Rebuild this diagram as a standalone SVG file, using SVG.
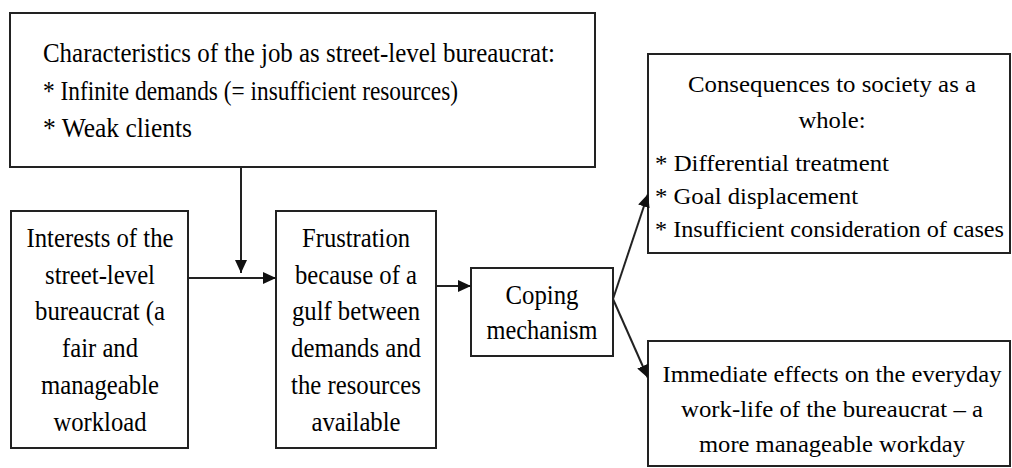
<svg xmlns="http://www.w3.org/2000/svg" width="1012" height="468" viewBox="0 0 1012 468">
<style>
.box{fill:#fff;stroke:#222;stroke-width:2}
.t{font-family:"Liberation Serif","Times New Roman",serif;font-size:27.5px;fill:#000}
.r{font-size:24px}
.c{text-anchor:middle}
.ln{stroke:#222;stroke-width:2;fill:none}
</style>
<defs>
<marker id="ah" markerUnits="userSpaceOnUse" markerWidth="14" markerHeight="14" viewBox="0 0 14 14" refX="13" refY="7" orient="auto">
<path d="M0,1 L13,7 L0,13 Z" fill="#111"/>
</marker>
</defs>
<rect width="1012" height="468" fill="#fff"/>
<g id="characteristics">
<rect class="box" x="10" y="13" width="585" height="154"/>
<text class="t" x="43" y="62" textLength="512" lengthAdjust="spacingAndGlyphs">Characteristics of the job as street-level bureaucrat:</text>
<text class="t" x="43" y="100" textLength="415" lengthAdjust="spacingAndGlyphs">* Infinite demands (= insufficient resources)</text>
<text class="t" x="43" y="137" textLength="149" lengthAdjust="spacingAndGlyphs">* Weak clients</text>
</g>
<g id="interests">
<rect class="box" x="11" y="211" width="177" height="237"/>
<text class="t c" x="100" y="247" textLength="147" lengthAdjust="spacingAndGlyphs">Interests of the</text>
<text class="t c" x="100" y="284" textLength="110" lengthAdjust="spacingAndGlyphs">street-level</text>
<text class="t c" x="100" y="320" textLength="130" lengthAdjust="spacingAndGlyphs">bureaucrat (a</text>
<text class="t c" x="100" y="357" textLength="76" lengthAdjust="spacingAndGlyphs">fair and</text>
<text class="t c" x="100" y="394" textLength="118" lengthAdjust="spacingAndGlyphs">manageable</text>
<text class="t c" x="100" y="431" textLength="93" lengthAdjust="spacingAndGlyphs">workload</text>
</g>
<g id="frustration">
<rect class="box" x="276" y="211" width="160" height="237"/>
<text class="t c" x="356" y="247" textLength="108" lengthAdjust="spacingAndGlyphs">Frustration</text>
<text class="t c" x="356" y="284" textLength="122" lengthAdjust="spacingAndGlyphs">because of a</text>
<text class="t c" x="356" y="320" textLength="128" lengthAdjust="spacingAndGlyphs">gulf between</text>
<text class="t c" x="356" y="357" textLength="130" lengthAdjust="spacingAndGlyphs">demands and</text>
<text class="t c" x="356" y="394" textLength="130" lengthAdjust="spacingAndGlyphs">the resources</text>
<text class="t c" x="356" y="431" textLength="89" lengthAdjust="spacingAndGlyphs">available</text>
</g>
<g id="coping">
<rect class="box" x="471" y="268" width="142" height="88"/>
<text class="t c" x="542" y="304" textLength="73" lengthAdjust="spacingAndGlyphs">Coping</text>
<text class="t c" x="542" y="339" textLength="111" lengthAdjust="spacingAndGlyphs">mechanism</text>
</g>
<g id="consequences">
<rect class="box" x="648" y="54" width="362" height="199"/>
<text class="t r c" x="832" y="92" textLength="288" lengthAdjust="spacingAndGlyphs">Consequences to society as a</text>
<text class="t r c" x="832" y="128" textLength="67" lengthAdjust="spacingAndGlyphs">whole:</text>
<text class="t r" x="655" y="171" textLength="234" lengthAdjust="spacingAndGlyphs">* Differential treatment</text>
<text class="t r" x="655" y="204" textLength="203" lengthAdjust="spacingAndGlyphs">* Goal displacement</text>
<text class="t r" x="655" y="237" textLength="349" lengthAdjust="spacingAndGlyphs">* Insufficient consideration of cases</text>
</g>
<g id="immediate">
<rect class="box" x="648" y="341" width="362" height="125"/>
<text class="t r c" x="832" y="382" textLength="339" lengthAdjust="spacingAndGlyphs">Immediate effects on the everyday</text>
<text class="t r c" x="832" y="417" textLength="302" lengthAdjust="spacingAndGlyphs">work-life of the bureaucrat – a</text>
<text class="t r c" x="832" y="452" textLength="266" lengthAdjust="spacingAndGlyphs">more manageable workday</text>
</g>
<g id="connectors">
<line class="ln" x1="241" y1="167" x2="241" y2="273" marker-end="url(#ah)"/>
<line class="ln" x1="188" y1="278" x2="276" y2="278" marker-end="url(#ah)"/>
<line class="ln" x1="436" y1="286" x2="471" y2="286" marker-end="url(#ah)"/>
<line class="ln" x1="613" y1="299" x2="648" y2="194" marker-end="url(#ah)"/>
<line class="ln" x1="613" y1="299" x2="648" y2="378" marker-end="url(#ah)"/>
</g>
</svg>
